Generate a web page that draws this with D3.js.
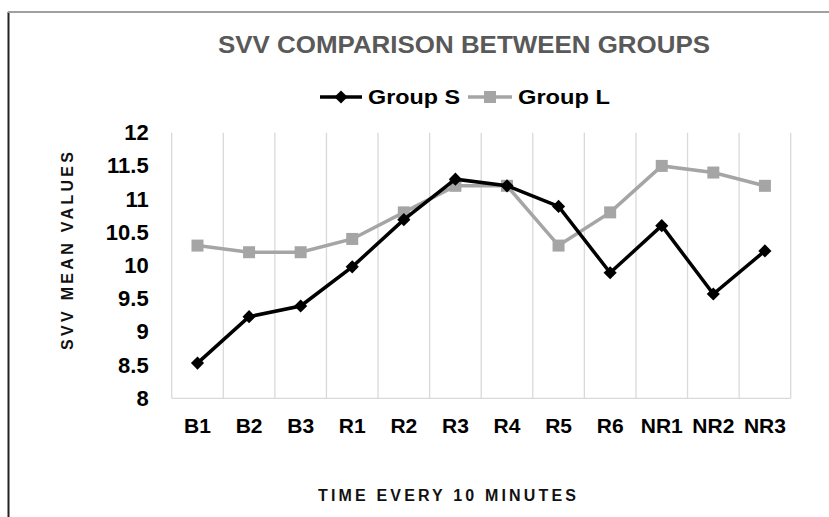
<!DOCTYPE html>
<html>
<head>
<meta charset="utf-8">
<script src="https://cdn.jsdelivr.net/npm/d3@7"></script>
<style>
  body { margin: 0; background: #fff; }
  text { font-family: "Liberation Sans", Arial, sans-serif; }
</style>
</head>
<body>
<div id="chart"></div>
<script>
// data
const categories = ["B1", "B2", "B3", "R1", "R2", "R3", "R4", "R5", "R6", "NR1", "NR2", "NR3"];
const groupS = [8.53, 9.23, 9.39, 9.98, 10.69, 11.3, 11.2, 10.89, 9.89, 10.6, 9.57, 10.22];
const groupL = [10.3, 10.2, 10.2, 10.4, 10.8, 11.2, 11.2, 10.3, 10.8, 11.5, 11.4, 11.2];
const yTicks = [8, 8.5, 9, 9.5, 10, 10.5, 11, 11.5, 12];

const W = 829, H = 517;
const margin = { top: 132.7, right: 38.3, bottom: 118.7, left: 171.7 };
const width = W - margin.left - margin.right;
const height = H - margin.top - margin.bottom;

const svg = d3.select("#chart")
    .append("svg")
    .attr("width", W)
    .attr("height", H);

// outer frame (only left and top edges show)
svg.append("line").attr("x1", 8.5).attr("x2", 8.5).attr("y1", 12).attr("y2", H)
    .attr("stroke", "#222").attr("stroke-width", 2);
svg.append("line").attr("x1", 8).attr("x2", W).attr("y1", 12).attr("y2", 12)
    .attr("stroke", "#a0a0a0").attr("stroke-width", 2);

const g = svg.append("g")
    .attr("transform", `translate(${margin.left}, ${margin.top})`);

const xScale = d3.scaleBand()
    .domain(categories)
    .range([0, width])
    .padding(0);

const yScale = d3.scaleLinear()
    .domain([8, 12])
    .range([height, 0]);

// vertical grid lines at category boundaries
const bounds = categories.map(c => xScale(c)).concat([width]);
g.selectAll(".vgrid")
    .data(bounds)
    .enter().append("line")
    .attr("x1", d => d).attr("x2", d => d)
    .attr("y1", 0).attr("y2", height)
    .attr("stroke", "#d9d9d9").attr("stroke-width", 1.3);

g.append("line")
    .attr("x1", 0).attr("x2", width)
    .attr("y1", height).attr("y2", height)
    .attr("stroke", "#d9d9d9").attr("stroke-width", 1.3);

// y tick labels
const yAxis = d3.axisLeft(yScale).tickValues(yTicks).tickSize(0).tickPadding(23)
    .tickFormat(d => String(d));
const yG = g.append("g").call(yAxis);
yG.select(".domain").remove();
yG.selectAll("text")
    .attr("font-size", 22).attr("font-weight", "bold").attr("fill", "#000")
    .attr("font-family", "'Liberation Sans', Arial, sans-serif");

// x tick labels
const xAxis = d3.axisBottom(xScale).tickSize(0).tickPadding(20);
const xG = g.append("g").attr("transform", `translate(0, ${height})`).call(xAxis);
xG.select(".domain").remove();
xG.selectAll("text")
    .attr("font-size", 21).attr("font-weight", "bold").attr("fill", "#000")
    .attr("font-family", "'Liberation Sans', Arial, sans-serif");

const cx = d => xScale(d) + xScale.bandwidth() / 2;
const line = d3.line()
    .x((d, i) => cx(categories[i]))
    .y(d => yScale(d));

// Group L (gray, squares)
g.append("path").datum(groupL)
    .attr("fill", "none").attr("stroke", "#a5a5a5").attr("stroke-width", 3.5)
    .attr("d", line);
g.selectAll(".sq").data(groupL).enter().append("rect")
    .attr("x", (d, i) => cx(categories[i]) - 6)
    .attr("y", d => yScale(d) - 6)
    .attr("width", 12).attr("height", 12)
    .attr("fill", "#a5a5a5");

// Group S (black, diamonds)
g.append("path").datum(groupS)
    .attr("fill", "none").attr("stroke", "#000").attr("stroke-width", 3.5)
    .attr("d", line);
const diamond = d3.symbol().type(d3.symbolDiamond2).size(110);
g.selectAll(".dm").data(groupS).enter().append("path")
    .attr("transform", (d, i) => `translate(${cx(categories[i])}, ${yScale(d)})`)
    .attr("d", diamond)
    .attr("fill", "#000");

// title
svg.append("text")
    .attr("x", 464).attr("y", 53)
    .attr("text-anchor", "middle")
    .attr("font-size", 23).attr("font-weight", "bold").attr("fill", "#595959")
    .attr("textLength", 492).attr("lengthAdjust", "spacingAndGlyphs")
    .text("SVV COMPARISON BETWEEN GROUPS");

// legend
const legend = svg.append("g");
legend.append("line").attr("x1", 320).attr("x2", 362).attr("y1", 97).attr("y2", 97)
    .attr("stroke", "#000").attr("stroke-width", 3.5);
legend.append("path").attr("transform", "translate(341, 97)").attr("d", diamond).attr("fill", "#000");
legend.append("text").attr("x", 368).attr("y", 104)
    .attr("font-size", 20).attr("font-weight", "bold").attr("fill", "#000")
    .attr("textLength", 92).attr("lengthAdjust", "spacingAndGlyphs")
    .text("Group S");
legend.append("line").attr("x1", 468).attr("x2", 512).attr("y1", 97).attr("y2", 97)
    .attr("stroke", "#a5a5a5").attr("stroke-width", 3.5);
legend.append("rect").attr("x", 484).attr("y", 91).attr("width", 12).attr("height", 12)
    .attr("fill", "#a5a5a5");
legend.append("text").attr("x", 518).attr("y", 104)
    .attr("font-size", 20).attr("font-weight", "bold").attr("fill", "#000")
    .attr("textLength", 92).attr("lengthAdjust", "spacingAndGlyphs")
    .text("Group L");

// axis titles
svg.append("text")
    .attr("transform", "translate(73, 251) rotate(-90)")
    .attr("text-anchor", "middle")
    .attr("font-size", 16).attr("font-weight", "bold").attr("fill", "#111")
    .attr("textLength", 198)
    .text("SVV MEAN VALUES");

svg.append("text")
    .attr("x", 447).attr("y", 501)
    .attr("text-anchor", "middle")
    .attr("font-size", 16).attr("font-weight", "bold").attr("fill", "#111")
    .attr("textLength", 258)
    .text("TIME EVERY 10 MINUTES");
</script>
</body>
</html>
